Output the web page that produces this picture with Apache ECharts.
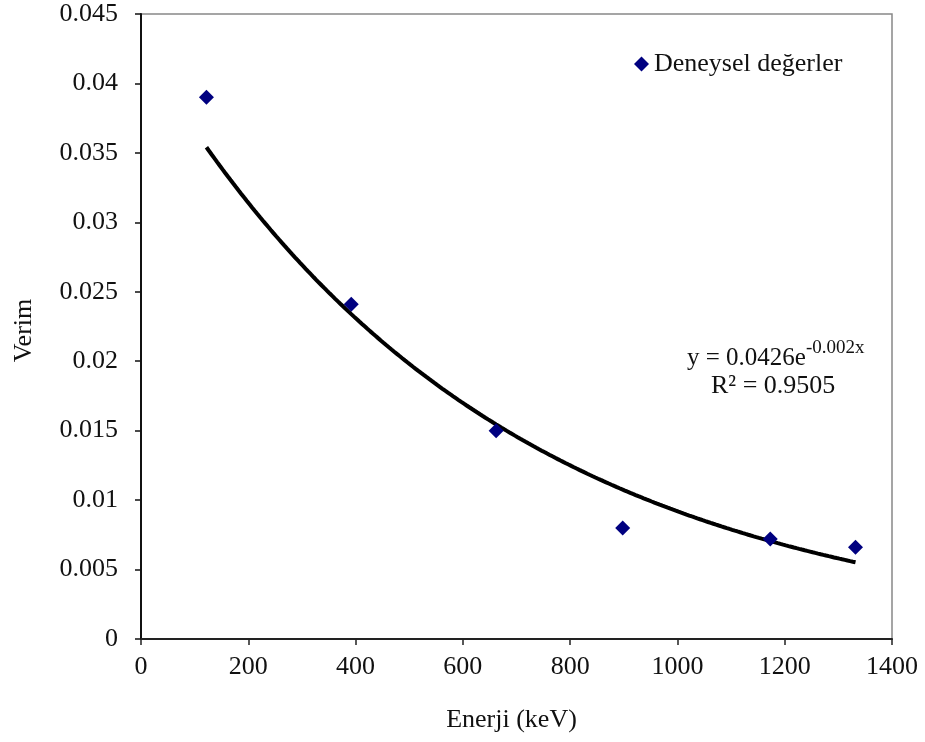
<!DOCTYPE html>
<html>
<head>
<meta charset="utf-8">
<script src="https://cdn.jsdelivr.net/npm/echarts@6/dist/echarts.min.js"></script>
<style>html,body{margin:0;padding:0;background:#fff}#c{width:925px;height:742px}</style>
</head>
<body>
<div id="c"></div>
<script>
// Data
const energies = [122, 392, 662, 898, 1173, 1332];
const efficiencies = [0.039, 0.0241, 0.0150, 0.0080, 0.0072, 0.0066];
const seriesName = 'Deneysel değerler';
const xTitle = 'Enerji (keV)';
const yTitle = 'Verim';
const eqMain = 'y = 0.0426e';
const eqExp = '-0.002x';
const r2Text = 'R² = 0.9505';

// Exponential trendline (least squares on ln y, as in spreadsheet trendlines)
const n = energies.length;
const lny = efficiencies.map(v => Math.log(v));
const mx = energies.reduce((a, b) => a + b, 0) / n;
const my = lny.reduce((a, b) => a + b, 0) / n;
let sxy = 0, sxx = 0;
for (let i = 0; i < n; i++) { sxy += (energies[i] - mx) * (lny[i] - my); sxx += (energies[i] - mx) ** 2; }
const b = sxy / sxx;
const a = Math.exp(my - b * mx);
const xMin = Math.min(...energies), xMax = Math.max(...energies);
const trend = [];
for (let x = xMin; x <= xMax; x += 5) trend.push([x, a * Math.exp(b * x)]);
trend.push([xMax, a * Math.exp(b * xMax)]);

const scatterData = energies.map((x, i) => [x, efficiencies[i]]);
const FONT = 'Liberation Serif';
const FS = 26;

const chart = echarts.init(document.getElementById('c'));
chart.setOption({
  animation: false,
  backgroundColor: '#fff',
  grid: { left: 141, top: 14, right: 33, bottom: 103, show: true, borderColor: '#888', borderWidth: 1.5 },
  legend: {
    data: [seriesName], left: 629, top: 46, icon: 'diamond', itemWidth: 15, itemHeight: 15,
    textStyle: { fontFamily: FONT, fontSize: FS, color: '#111' }
  },
  xAxis: {
    type: 'value', min: 0, max: 1400, interval: 200,
    name: xTitle, nameLocation: 'middle', nameGap: 68,
    nameTextStyle: { fontFamily: FONT, fontSize: FS, color: '#111', padding: [0, 10, 0, 0] },
    axisLine: { show: true, lineStyle: { color: '#222', width: 2 } },
    axisTick: { show: true, inside: false, length: 6, lineStyle: { color: '#222', width: 1.5 } },
    axisLabel: { fontFamily: FONT, fontSize: FS, color: '#111', margin: 15, formatter: v => String(v) },
    splitLine: { show: false }
  },
  yAxis: {
    type: 'value', min: 0, max: 0.045, interval: 0.005,
    name: yTitle, nameLocation: 'middle', nameGap: 104, nameRotate: 90,
    nameTextStyle: { fontFamily: FONT, fontSize: FS, color: '#111', padding: [0, 8, 0, 0] },
    axisLine: { show: true, lineStyle: { color: '#111', width: 2 } },
    axisTick: { show: true, inside: false, length: 6, lineStyle: { color: '#111', width: 1.5 } },
    axisLabel: { fontFamily: FONT, fontSize: FS, color: '#111', margin: 23,
      formatter: v => String(+v.toFixed(3)) },
    splitLine: { show: false }
  },
  series: [
    {
      name: 'trend', type: 'line', data: trend, showSymbol: false, smooth: false,
      lineStyle: { color: '#000', width: 4 }, z: 2, silent: true
    },
    {
      name: seriesName, type: 'scatter', data: scatterData, symbol: 'diamond', symbolSize: 15,
      itemStyle: { color: '#000080', opacity: 1 }, z: 3
    }
  ],
  graphic: [
    {
      type: 'text', left: 687, top: 339,
      style: {
        text: '{m|' + eqMain + '}{s|' + eqExp + '}',
        rich: {
          m: { fontFamily: FONT, fontSize: 25, fill: '#111', verticalAlign: 'bottom', lineHeight: 32 },
          s: { fontFamily: FONT, fontSize: 19, fill: '#111', verticalAlign: 'top', lineHeight: 32, padding: [0, 0, 13, 0] }
        }
      }
    },
    {
      type: 'text', left: 711, top: 373,
      style: { text: r2Text, font: '26px "Liberation Serif"', fill: '#111' }
    }
  ]
});
</script>
</body>
</html>
